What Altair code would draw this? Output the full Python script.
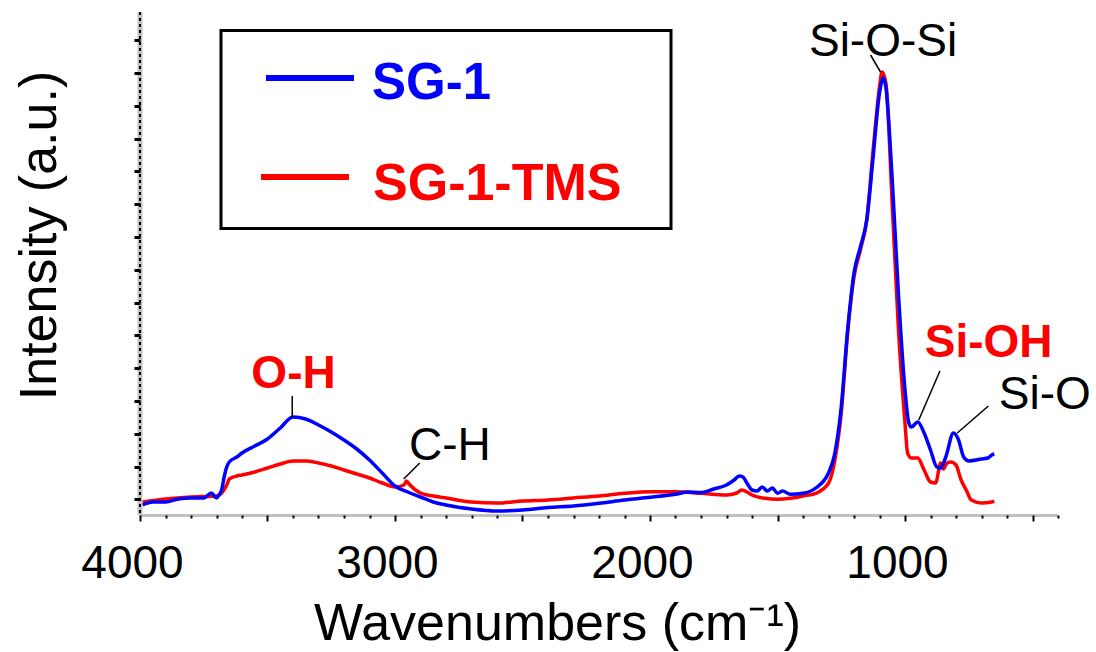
import altair as alt
import pandas as pd

FONT = "Liberation Sans"

# ---------------- data ----------------
sg1_wn = [3990, 3950, 3900, 3850, 3800, 3750, 3720, 3700, 3690, 3680, 3670, 3660, 3650,
          3620, 3600, 3550, 3500, 3450, 3400, 3350, 3300, 3250, 3200, 3150, 3100, 3050,
          3000, 2950, 2900, 2850, 2800, 2700, 2600, 2500, 2400, 2300, 2200, 2100, 2000,
          1900, 1850, 1800, 1750, 1700, 1670, 1650, 1635, 1620, 1600, 1580, 1560, 1540,
          1520, 1500, 1480, 1450, 1400, 1350, 1300, 1275, 1250, 1225, 1200, 1175, 1150,
          1125, 1100, 1085, 1075, 1050, 1025, 1000, 985, 975, 950, 925, 900, 875, 860,
          840, 810, 790, 770, 750, 700, 675, 660, 650]
sg1_int = [10, 13, 13, 16, 17, 17, 22, 17, 20, 25, 38, 48, 53,
           58, 62, 69, 76, 87, 98, 96, 90, 83, 75, 66, 55, 42,
           29, 23, 18, 13, 10, 6, 4, 5, 7.5, 9, 11.7, 15, 17.7,
           20.7, 23, 22.5, 26, 30, 35, 39, 38, 32, 25, 24, 28, 24,
           27, 21.7, 24, 20.7, 21.7, 27, 42, 62, 108, 185, 242, 268, 295,
           358, 422, 437, 428, 335, 218, 125, 92, 88, 93, 82, 65, 48, 47,
           58, 82, 75, 58, 54, 56, 57, 60, 61]

tms_wn = [3990, 3900, 3800, 3700, 3680, 3660, 3650, 3620, 3600, 3550, 3500, 3450, 3400,
          3350, 3300, 3250, 3200, 3150, 3100, 3050, 3000, 2965, 2955, 2945, 2900, 2850,
          2800, 2700, 2600, 2500, 2400, 2300, 2200, 2100, 2000, 1900, 1800, 1700, 1660,
          1640, 1620, 1600, 1550, 1500, 1450, 1400, 1350, 1300, 1275, 1250, 1225, 1200,
          1175, 1150, 1125, 1100, 1090, 1075, 1050, 1025, 1000, 990, 975, 950, 925, 900,
          880, 860, 850, 835, 820, 800, 780, 760, 740, 700, 660, 650]
tms_int = [13, 16, 18, 19, 22, 30, 36, 39, 40, 43, 47, 51, 54,
           54, 52, 49, 45, 41, 37, 32, 28, 30, 34, 31, 22, 19,
           17, 13, 12, 14, 15, 17, 19, 21.7, 23.3, 23.3, 21.7, 20, 22,
           25, 23, 20, 16.7, 15.7, 16.7, 19, 21.7, 31.7, 55, 102, 182, 238,
           265, 295, 365, 428, 443, 432, 310, 182, 92, 62, 57, 57, 45, 33,
           32, 52, 46, 52, 53, 50, 35, 25, 15, 12, 13, 14]

series_names = ["SG-1", "SG-1-TMS"]
series_colors = ["#0000FF", "#FF0000"]

x_tick_values = list(range(400, 4001, 100))
y_tick_values = [15.7 + 32.8 * k for k in range(15)]

# annotations: label, x (cm-1), y (a.u.), colour, bold
ann_text = ["Si-O-Si", "O-H", "C-H", "Si-OH", "Si-O"]
ann_x = [1086, 3398, 2785, 672, 452]
ann_y = [459, 127, 55, 158, 106]
ann_color = ["black", "#FF0000", "black", "#FF0000", "black"]
ann_weight = ["normal", "bold", "normal", "bold", "normal"]
# leader lines (x1, y1) -> (x2, y2)
lead_x1 = [1135, 3403, 2903, 863, 673]
lead_y1 = [460, 119, 52, 144, 109]
lead_x2 = [1096, 3403, 2966, 946, 795]
lead_y2 = [443, 98, 36, 95, 82]

# ---------------- chart ----------------
W, H = 918, 503

xscale = alt.Scale(domain=[400, 4000], reverse=True, nice=False, zero=False)
yscale = alt.Scale(domain=[0, H], nice=False, zero=False)

x_axis = alt.Axis(
    values=x_tick_values,
    labelExpr="datum.value % 1000 === 0 ? format(datum.value, 'd') : ''",
    labelFont=FONT, labelFontSize=46, labelColor="black",
    labelOverlap=False, labelFlush=False, labelOffset=-8, labelPadding=20,
    domain=False, grid=False,
    tickColor="black", tickWidth=2,
    tickSize={"condition": {"test": "datum.value % 500 === 0", "value": 6}, "value": 3},
    title="Wavenumbers (cm⁻¹)", titleFont=FONT, titleFontSize=52,
    titleFontWeight="normal", titleColor="black",
    titleX=417, titleY=124, titleBaseline="alphabetic", titleAlign="center",
    zindex=1,
)
y_axis = alt.Axis(
    values=y_tick_values, labels=False, domain=False, grid=False,
    tickColor="black", tickWidth=3, tickSize=6,
    title="Intensity (a.u.)", titleFont=FONT, titleFontSize=52,
    titleFontWeight="normal", titleColor="black",
    titleX=-85, titleY=223, titleBaseline="alphabetic", titleAlign="center",
    titleAngle=270, zindex=1,
)

one = pd.DataFrame({"k": [0]})

y_band = alt.Chart(one).mark_rule(color="#c0c0c0", strokeWidth=5).encode(
    x=alt.value(0), y=alt.value(0), y2=alt.value(H))
y_dash = alt.Chart(one).mark_rule(color="black", strokeWidth=2, strokeDash=[3, 3]).encode(
    x=alt.value(0), y=alt.value(0), y2=alt.value(H))
x_band = alt.Chart(one).mark_rule(color="#c0c0c0", strokeWidth=3).encode(
    x=alt.value(0), x2=alt.value(W), y=alt.value(H + 0.5))

df_b = pd.DataFrame({"wn": sg1_wn, "h": sg1_int})
df_r = pd.DataFrame({"wn": tms_wn, "h": tms_int})

X = alt.X("wn:Q", scale=xscale, axis=x_axis)
Y = alt.Y("h:Q", scale=yscale, axis=y_axis)

red_line = alt.Chart(df_r).mark_line(
    color=series_colors[1], strokeWidth=3.5, interpolate="monotone").encode(
    x=X, y=Y, order="wn:Q")
blue_line = alt.Chart(df_b).mark_line(
    color=series_colors[0], strokeWidth=3.5, interpolate="monotone").encode(
    x=X, y=Y, order="wn:Q")

df_ann = pd.DataFrame({"t": ann_text, "wn": ann_x, "h": ann_y,
                       "c": ann_color, "w": ann_weight})
ann_normal = alt.Chart(df_ann[df_ann.w == "normal"]).mark_text(
    font=FONT, fontSize=46, baseline="alphabetic", align="center", fontWeight="normal"
).encode(x=X, y=Y, text="t:N", color=alt.Color("c:N", scale=None))
ann_bold = alt.Chart(df_ann[df_ann.w == "bold"]).mark_text(
    font=FONT, fontSize=46, baseline="alphabetic", align="center", fontWeight="bold"
).encode(x=X, y=Y, text="t:N", color=alt.Color("c:N", scale=None))

df_lead = pd.DataFrame({"wn": lead_x1, "h": lead_y1, "wn2": lead_x2, "h2": lead_y2})
leaders = alt.Chart(df_lead).mark_rule(color="black", strokeWidth=1.5).encode(
    x=X, x2="wn2:Q", y=Y, y2="h2:Q")

# legend (manual, boxed)
legend_box = alt.Chart(one).mark_rect(fill="white", stroke="black", strokeWidth=3).encode(
    x=alt.value(81), x2=alt.value(531), y=alt.value(18.5), y2=alt.value(216.5))
leg_blue = alt.Chart(one).mark_rule(color=series_colors[0], strokeWidth=6).encode(
    x=alt.value(126), x2=alt.value(214), y=alt.value(66))
leg_red = alt.Chart(one).mark_rule(color=series_colors[1], strokeWidth=6).encode(
    x=alt.value(121), x2=alt.value(209), y=alt.value(165))
leg_t1 = alt.Chart(one).mark_text(
    text=series_names[0], color=series_colors[0], font=FONT, fontSize=51,
    fontWeight="bold", align="left", baseline="alphabetic").encode(
    x=alt.value(232), y=alt.value(87))
leg_t2 = alt.Chart(one).mark_text(
    text=series_names[1], color=series_colors[1], font=FONT, fontSize=52,
    fontWeight="bold", align="left", baseline="alphabetic").encode(
    x=alt.value(233), y=alt.value(188))

chart = alt.layer(
    red_line, blue_line, y_band, y_dash, x_band, legend_box, leg_blue, leg_red,
    leg_t1, leg_t2, leaders, ann_normal, ann_bold,
).properties(
    width=W, height=H,
    padding={"left": 140, "top": 12, "right": 38, "bottom": 137},
    autosize=alt.AutoSizeParams(type="none"),
    background="white",
).configure_view(stroke="transparent")

chart.save("out.html", embed_options={"renderer": "svg", "actions": False})
